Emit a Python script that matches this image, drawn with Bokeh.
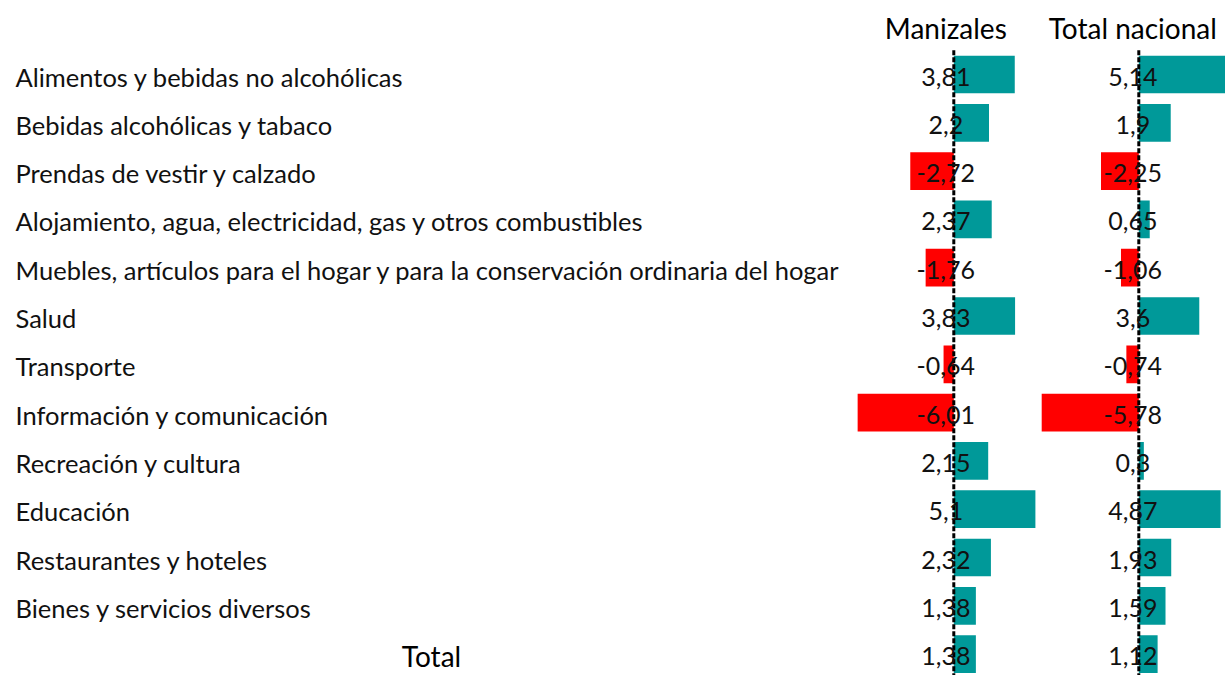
from bokeh.plotting import figure
from bokeh.models import Range1d, ColumnDataSource
from bokeh.layouts import row
from bokeh.embed import file_html
from bokeh.resources import INLINE
from bokeh.core.properties import value

categories = [
    "Alimentos y bebidas no alcohólicas",
    "Bebidas alcohólicas y tabaco",
    "Prendas de vestir y calzado",
    "Alojamiento, agua, electricidad, gas y otros combustibles",
    "Muebles, artículos para el hogar y para la conservación ordinaria del hogar",
    "Salud",
    "Transporte",
    "Información y comunicación",
    "Recreación y cultura",
    "Educación",
    "Restaurantes y hoteles",
    "Bienes y servicios diversos",
    "Total",
]
manizales = [3.81, 2.2, -2.72, 2.37, -1.76, 3.83, -0.64, -6.01, 2.15, 5.1, 2.32, 1.38, 1.38]
nacional = [5.14, 1.9, -2.25, 0.65, -1.06, 3.6, -0.74, -5.78, 0.3, 4.87, 1.93, 1.59, 1.12]
headers = ["Manizales", "Total nacional"]

FONT = value("Lato")
TEAL = "#009999"
RED = "#FF0000"
H = 675
rows = list(range(len(categories)))
y_top = -74 / 48.3
y_bot = (H - 74) / 48.3


def base_fig(w, x0, x1):
    p = figure(width=w, height=H, x_range=Range1d(x0, x1), y_range=Range1d(y_bot, y_top),
               output_backend="svg", toolbar_location=None, min_border=0,
               x_axis_location=None, y_axis_location=None)
    p.xgrid.visible = False
    p.ygrid.visible = False
    p.outline_line_color = None
    p.background_fill_color = "white"
    p.border_fill_color = "white"
    return p


# labels panel
pa = base_fig(840, 0, 840)
n = len(categories) - 1
src_lab = ColumnDataSource(dict(y=rows[:n], t=categories[:n]))
pa.text(x=15, y="y", text="t", source=src_lab, text_font=FONT, text_font_size="25.5px",
        text_baseline="middle", text_align="left", text_color="#111111", y_offset=2)
src_tot = ColumnDataSource(dict(y=rows[n:], t=categories[n:]))
pa.text(x=431, y="y", text="t", source=src_tot, text_font=FONT, text_font_size="28px",
        text_baseline="middle", text_align="center", text_color="#000000", y_offset=2)


def value_panel(w, x0, x1, vals, header, txt_off):
    p = base_fig(w, x0, x1)
    cols = [TEAL if v >= 0 else RED for v in vals]
    src = ColumnDataSource(dict(y=rows, v=vals, c=cols,
                                t=[str(v).replace(".", ",") for v in vals]))
    p.hbar(y="y", left=0, right="v", height=0.78, fill_color="c", line_color=None, source=src)
    p.segment(x0=0, x1=0, y0=-0.5, y1=len(rows) - 0.5, line_color="black",
              line_width=3, line_dash="5 2")
    p.text(x=0, y="y", text="t", source=src, text_font=FONT, text_font_size="25px",
           text_baseline="middle", text_align="center", text_color="#111111",
           x_offset=txt_off, y_offset=2)
    hs = ColumnDataSource(dict(y=[-1], t=[header]))
    p.text(x=0, y="y", text="t", source=hs, text_font=FONT, text_font_size="28px",
           text_baseline="middle", text_align="center", text_color="#000000",
           x_offset=txt_off, y_offset=2)
    return p


pb = value_panel(200, -113.3 / 16.0, 86.7 / 16.0, manizales, headers[0], -8)
pc = value_panel(185, -98.3 / 16.8, 86.7 / 16.8, nacional, headers[1], -6)

layout = row(pa, pb, pc, spacing=0)
open("out.html", "w").write(file_html(layout, INLINE))
